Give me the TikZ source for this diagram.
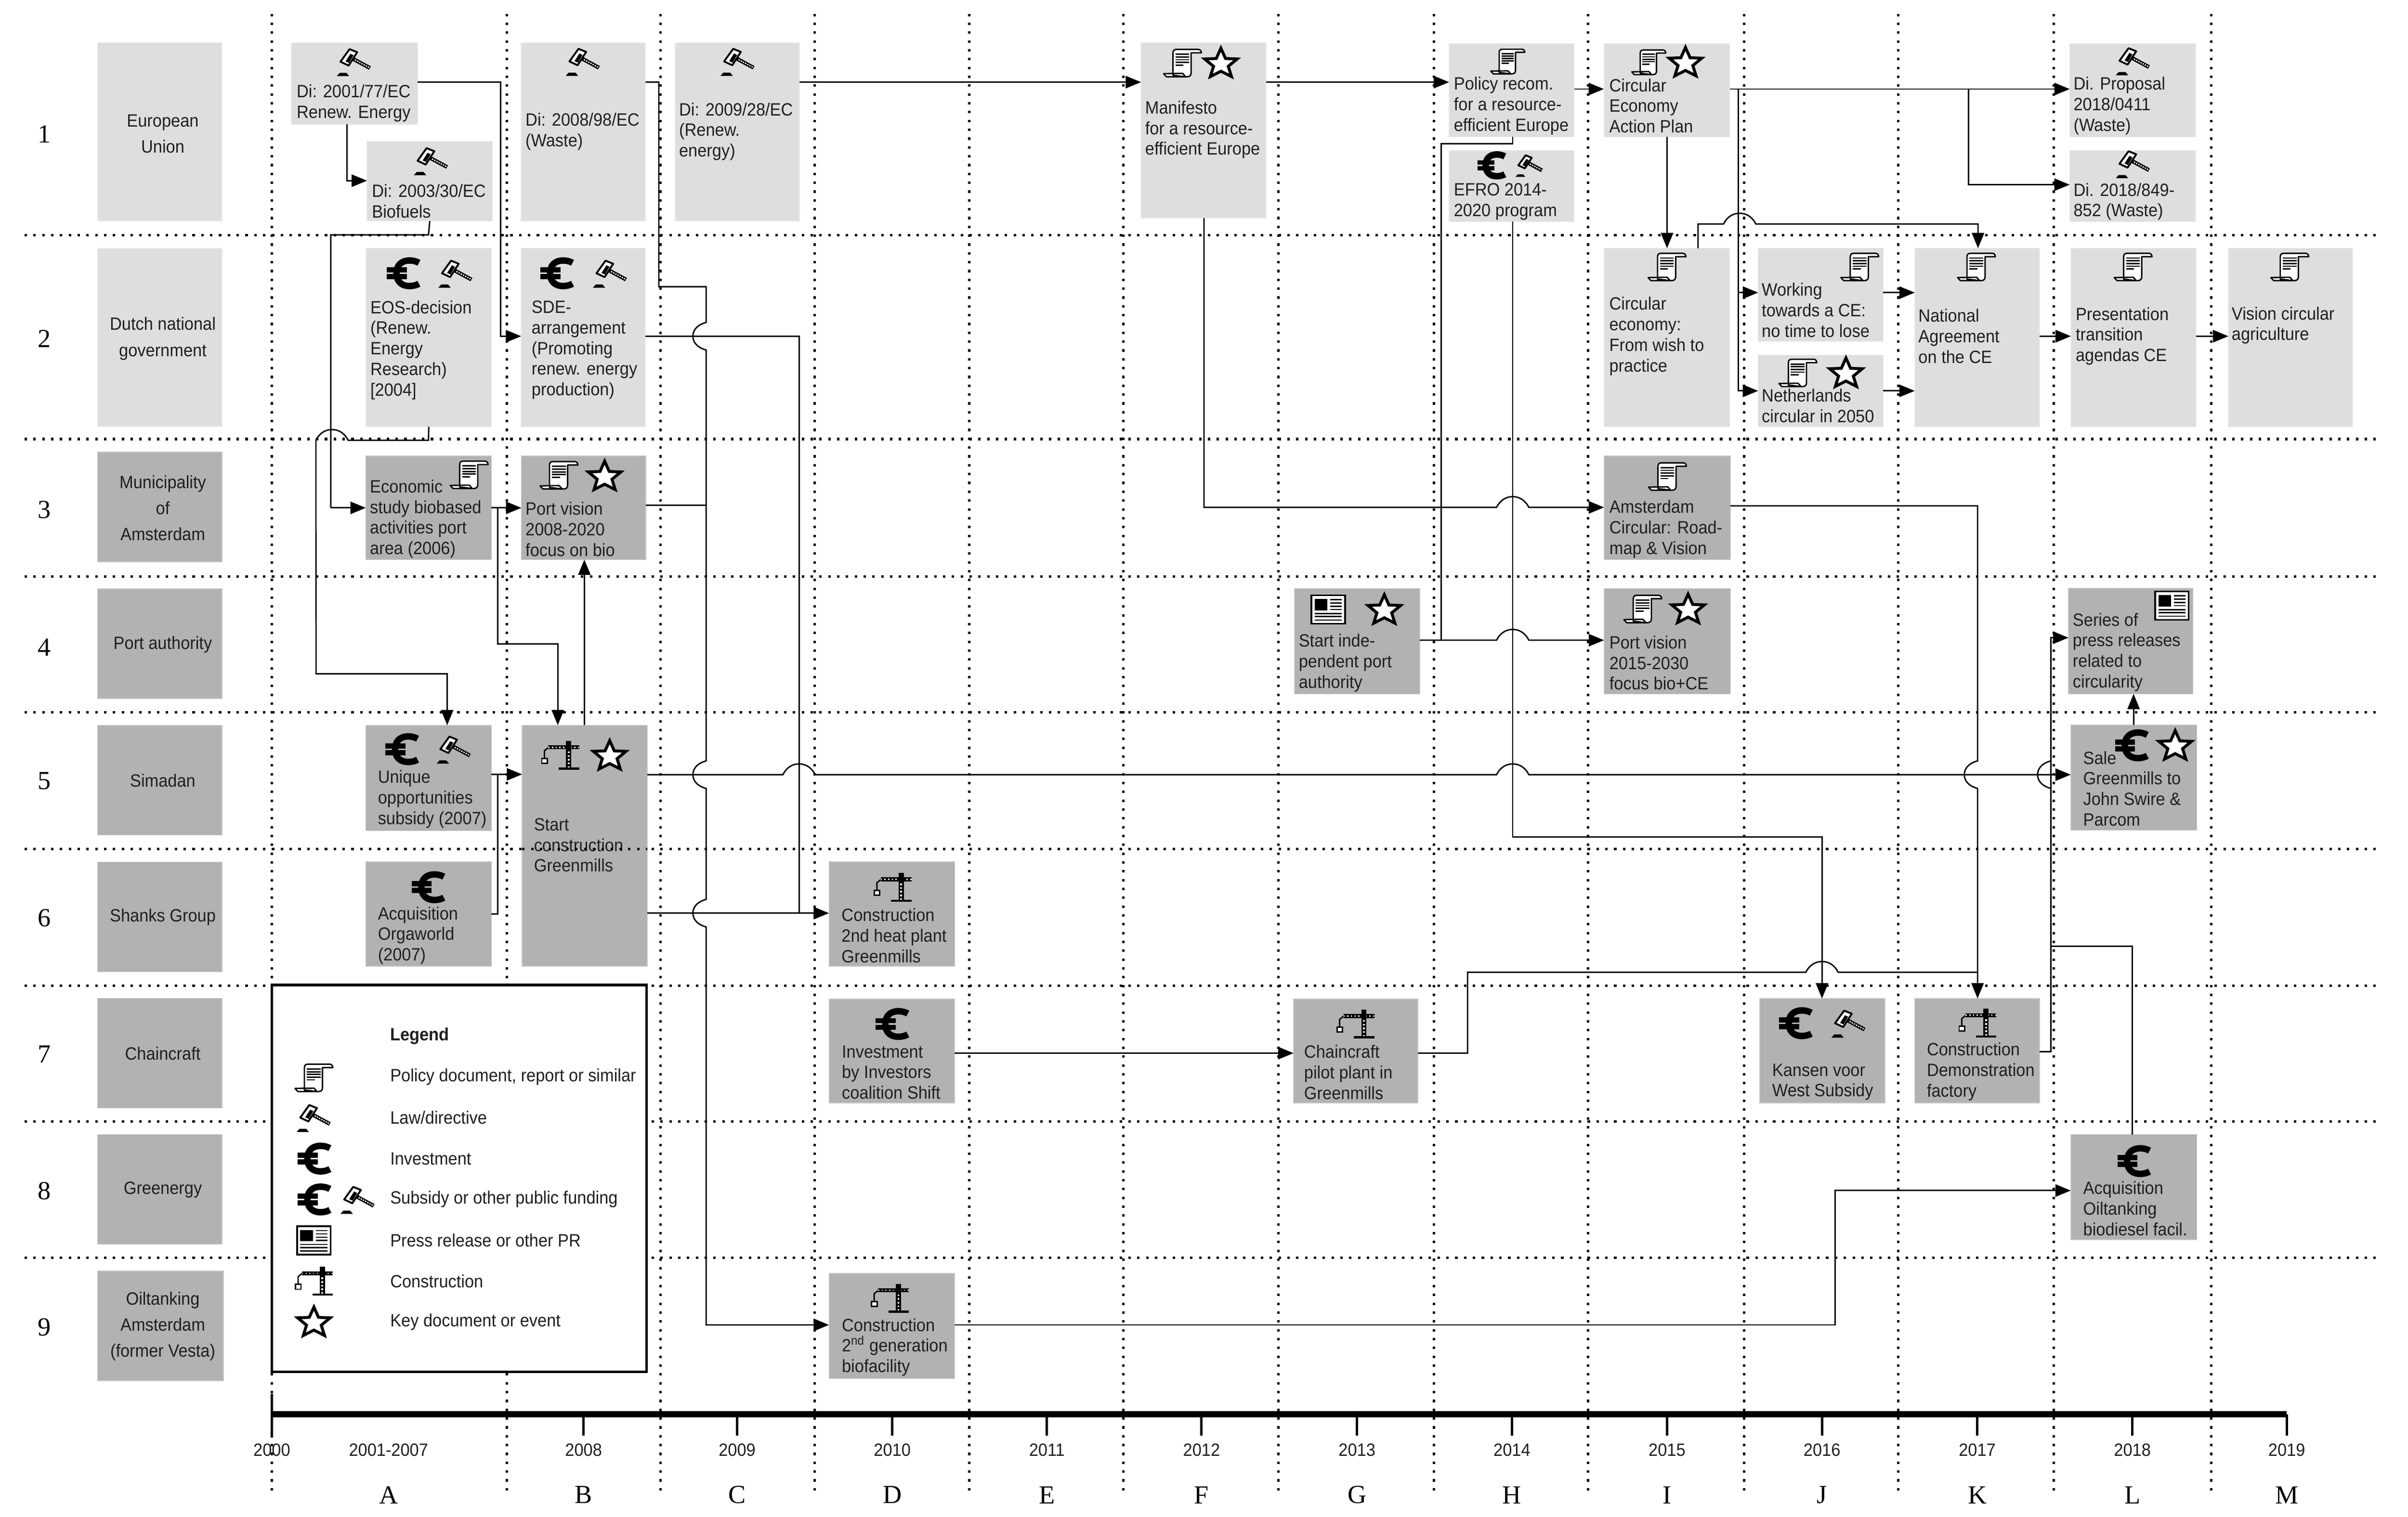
\documentclass[tikz,border=0pt]{standalone}
\usepackage{fontspec}
\setmainfont[FakeStretch=0.93]{Liberation Sans}
\newfontfamily\numfont{Liberation Serif}
\usetikzlibrary{arrows.meta}

\definecolor{lightbox}{HTML}{DEDEDE}
\definecolor{darkbox}{HTML}{B2B2B2}

\tikzset{
  griddot/.style={line width=1.6pt, dash pattern=on 1.6pt off 4.15pt},
  evbox/.style={inner sep=0pt, outer sep=0pt, line width=0.5pt},
  evlight/.style={evbox, fill=lightbox, draw=lightbox!60!white},
  evdark/.style={evbox, fill=darkbox, draw=darkbox!70!white},
  evtext/.style={font=\fontsize{11.6}{13.4}\selectfont, align=left, inner sep=0pt, text=black!88},
  rowtext/.style={font=\fontsize{11.6}{17}\selectfont, align=center, inner sep=0pt, text=black!88},
  numtext/.style={font=\numfont\fontsize{17}{17}\selectfont, inner sep=0pt},
  link/.style={line width=0.9pt},
  tolink/.style={line width=0.9pt, -{Triangle[length=10pt,width=8pt]}},
  docicon/.pic={
    \filldraw[line width=0.9pt, fill=white, line join=round] (-6.2,6.8) -- (-6.2,-6.5)
      .. controls (-6.2,-8) and (-5.5,-8.8) .. (-4,-8.8) -- (10.5,-8.8)
      .. controls (11.5,-8.8) and (12.3,-7.6) .. (12.3,-6.6) -- (5.6,-6.6) -- (5.6,6.5)
      .. controls (5.6,8) and (4.8,9) .. (3,9) -- (-10.5,9) -- (-12.3,7) -- (0,6.8)
      .. controls (1,7.2) and (1,8.2) .. (2,9) -- (-6.2,8) -- cycle;
    \foreach \ly in {-5.7,-3.9,-2.1,-0.4} \draw[line width=0.9pt] (-4.6,\ly) -- (4.4,\ly);
    \draw[line width=0.9pt] (-4.6,1.4) -- (0.6,1.4);
  },
  lawicon/.pic={
    \fill (-11.3,9.4) -- (-9.4,7.3) -- (-5,7.3) -- (-3.2,9.4) -- cycle;
    \draw[line width=2.5pt] (-1,-2) -- (10.3,4.1);
    \draw[line width=0.8pt, white, dash pattern=on 0.9pt off 0.7pt] (0.5,-1.2) -- (9.8,3.8);
    \filldraw[line width=1.2pt, fill=white, line join=round] (-8.9,0) -- (-3,-8.2) -- (2,-6.2) -- (-3.6,2.5) -- cycle;
    \fill (-5.6,-0.2) -- (-2.4,-5.2) -- (-0.4,-4.2) -- (-3.4,0.8) -- cycle;
  },
  euroicon/.pic={
    \draw[line width=4.2pt] (10.4,-6.8) .. controls (6,-9.4) and (-4.2,-9.6) .. (-4.2,0)
      .. controls (-4.2,9.6) and (6,9.4) .. (10.4,6.8);
    \fill (-10.5,-3.9) rectangle (2.5,-0.5);
    \fill (-10.5,0.5) rectangle (2.5,3.9);
  },
  pressicon/.pic={
    \filldraw[line width=1.1pt, fill=white] (-10.9,-9.2) rectangle (10.9,9.2);
    \fill (-8.9,-6.9) rectangle (-0.5,0.5);
    \foreach \ly in {-6.5,-4.3,-2,0} \draw[line width=0.8pt] (1.3,\ly) -- (8.9,\ly);
    \foreach \ly in {2.6,4.6,6.9} \draw[line width=0.8pt] (-8.9,\ly) -- (8.9,\ly);
  },
  craneicon/.pic={
    \draw[line width=0.9pt] (-10.3,2) -- (-10.3,-3) -- (-7.6,-5.2);
    \filldraw[line width=0.9pt, fill=white] (-12,2) rectangle (-8.4,5.2);
    \draw[line width=2.6pt] (-7.8,-5.2) -- (12.3,-5.2);
    \draw[line width=0.8pt, white, dash pattern=on 0.8pt off 1.6pt] (-7.8,-5.2) -- (12.3,-5.2);
    \draw[line width=3.4pt] (5.5,-9.4) -- (5.5,8.7);
    \draw[line width=1.2pt, white, dash pattern=on 1.1pt off 1.3pt] (5.5,-2.5) -- (5.5,8);
    \draw[line width=1.4pt] (-1,8.7) -- (12.3,8.7);
  },
  staricon/.pic={
    \filldraw[line width=1.9pt, fill=white, line join=miter] (0,-9.6) -- (3,-2.9) -- (10.6,-2.6)
      -- (4.8,2.2) -- (6.9,8.9) -- (0,5.4) -- (-6.9,8.9) -- (-4.8,2.2) -- (-10.6,-2.6) -- (-3,-2.9) -- cycle;
  },
}

% a box, then its text: name, style, x1, y1, x2, y2, text x, text y, text
\newcommand{\eventbox}[9]{%
  \node[#2, minimum width={(#5-#3)*1pt}, minimum height={(#6-#4)*1pt}] (#1) at ({(#3+#5)/2},{(#4+#6)/2}) {};
  \node[evtext, anchor=west] (#1t) at (#7,#8) {#9};
}
% hops over a crossing line
\newcommand{\vhop}[2]{-- (#1,{#2-9}) .. controls ({#1-7},{#2-7}) and ({#1-8.6},{#2-3}) .. ({#1-8.6},#2) .. controls ({#1-8.6},{#2+3}) and ({#1-7},{#2+7}) .. (#1,{#2+9})}
\newcommand{\hhop}[2]{-- ({#1-10.5},#2) .. controls ({#1-8},{#2-5}) and ({#1-4},{#2-7}) .. (#1,{#2-7}) .. controls ({#1+4},{#2-7}) and ({#1+8},{#2-5}) .. ({#1+10.5},#2)}
\newcommand{\hhopw}[2]{-- ({#1+10.5},#2) .. controls ({#1+8},{#2-5}) and ({#1+4},{#2-7}) .. (#1,{#2-7}) .. controls ({#1-4},{#2-7}) and ({#1-8},{#2-5}) .. ({#1-10.5},#2)}

\begin{document}
\begin{tikzpicture}[x=1pt, y=-1pt]
  \useasboundingbox (0,0) rectangle (1568,988);

  % Grid
  \foreach \gx in {177,330,430,530.5,631,731.5,832.3,933.6,1034,1135.7,1236,1337.4,1440}
    \draw[griddot] (\gx,9) -- (\gx,973);
  \foreach \gy in {153.2,286,375.6,464,553,642,730.6,819.2}
    \draw[griddot] (16,\gy) -- (1551,\gy);

  % Actors
  \node[evlight, minimum width=81pt, minimum height=116pt] (eu) at (104,86) {};
  \node[rowtext] (eut) at (106,87.2) {European\\Union};
  \node[evlight, minimum width=81pt, minimum height=116pt] (nl) at (104,219.8) {};
  \node[rowtext] (nlt) at (106,220.6) {Dutch national\\government};
  \node[evdark, minimum width=81pt, minimum height=71.5pt] (ams) at (104,330.3) {};
  \node[rowtext] (amst) at (106,331) {Municipality\\of\\Amsterdam};
  \node[evdark, minimum width=81pt, minimum height=71.5pt] (port) at (104,419.3) {};
  \node[rowtext] (portt) at (106,420) {Port authority};
  \node[evdark, minimum width=81pt, minimum height=71.5pt] (sim) at (104,508.2) {};
  \node[rowtext] (simt) at (106,508.5) {Simadan};
  \node[evdark, minimum width=81pt, minimum height=71.5pt] (sha) at (104,597.3) {};
  \node[rowtext] (shat) at (106,597.5) {Shanks Group};
  \node[evdark, minimum width=81pt, minimum height=71.5pt] (cha) at (104,686) {};
  \node[rowtext] (chat) at (106,686.3) {Chaincraft};
  \node[evdark, minimum width=81pt, minimum height=71.5pt] (gre) at (104,774.7) {};
  \node[rowtext] (gret) at (106,775) {Greenergy};
  \node[evdark, minimum width=82pt, minimum height=71.5pt] (oil) at (104.5,863.6) {};
  \node[rowtext] (oilt) at (106,864) {Oiltanking\\Amsterdam\\(former Vesta)};

  % Row numbers
  \foreach \ry [count=\rn] in {87.4,220.6,332,421.7,508.6,598,686.6,775.7,864.5}
    \node[numtext] (row\rn) at (29,\ry) {\rn};

  % Events
  \eventbox{di01}{evlight}{189.7}{28}{272}{81}{193}{67.2}{Di: 2001/77/EC\\Renew. Energy}
  \eventbox{di03}{evlight}{239}{92}{320.7}{144}{242}{131}{Di: 2003/30/EC\\Biofuels}
  \eventbox{di08}{evlight}{339.4}{28}{420.3}{144}{342}{85.8}{Di: 2008/98/EC\\(Waste)}
  \eventbox{di09}{evlight}{439.7}{28}{520.6}{144}{442}{85.7}{Di: 2009/28/EC\\(Renew.\\energy)}
  \eventbox{mani}{evlight}{743}{28}{824.5}{142}{745.5}{84.5}{Manifesto\\for a resource-\\efficient Europe}
  \eventbox{polrec}{evlight}{943.6}{28.4}{1025}{89.2}{946.5}{68.9}{Policy recom.\\for a resource-\\efficient Europe}
  \eventbox{efro}{evlight}{943.6}{98}{1025}{144.4}{946.5}{131.4}{EFRO 2014-\\2020 program}
  \eventbox{cap}{evlight}{1044.4}{28.4}{1126.3}{89.2}{1047.7}{68.9}{Circular\\Economy\\Action Plan}
  \eventbox{prop}{evlight}{1347.7}{28.4}{1429.6}{89.2}{1350}{68.9}{Di. Proposal\\2018/0411\\(Waste)}
  \eventbox{di18}{evlight}{1347.7}{98}{1429.6}{144.4}{1350}{131.4}{Di. 2018/849-\\852 (Waste)}

  \eventbox{eos}{evlight}{238.4}{161.7}{320}{278}{241}{228}{EOS-decision\\(Renew.\\Energy\\Research)\\{[}2004{]}}
  \eventbox{sde}{evlight}{339.4}{161.7}{420.3}{278}{346}{228}{SDE-\\arrangement\\(Promoting\\renew. energy\\production)}
  \eventbox{wish}{evlight}{1044.4}{161.7}{1126.3}{278}{1047.7}{219}{Circular\\economy:\\From wish to\\practice}
  \eventbox{work}{evlight}{1144.8}{161.7}{1226.3}{222.3}{1147}{202}{Working\\towards a CE:\\no time to lose}
  \eventbox{neth}{evlight}{1144.8}{231.3}{1226.3}{278}{1147}{264.2}{Netherlands\\circular in 2050}
  \eventbox{natl}{evlight}{1246.8}{161.7}{1328}{278}{1249}{219}{National\\Agreement\\on the CE}
  \eventbox{pres}{evlight}{1348.5}{161.7}{1430}{278}{1351.4}{219}{Presentation\\transition\\agendas CE}
  \eventbox{visn}{evlight}{1451}{161.7}{1532}{278}{1453}{212}{Vision circular\\agriculture}

  \eventbox{econ}{evdark}{238.2}{296.9}{320}{364.5}{240.7}{338}{Economic\\study biobased\\activities port\\area (2006)}
  \eventbox{pv08}{evdark}{339.5}{296.9}{420.6}{364.5}{342}{344.7}{Port vision\\2008-2020\\focus on bio}
  \eventbox{acir}{evdark}{1044.5}{297}{1126.7}{364.6}{1047.8}{344.6}{Amsterdam\\Circular: Road-\\map \& Vision}

  \eventbox{indp}{evdark}{843}{383.4}{924.4}{452}{845.5}{431.8}{Start inde-\\pendent port\\authority}
  \eventbox{pv15}{evdark}{1044.5}{383.4}{1126.7}{452}{1047.8}{431.8}{Port vision\\2015-2030\\focus bio+CE}
  \eventbox{seri}{evdark}{1346.9}{383.3}{1428}{452}{1349.5}{424.8}{Series of\\press releases\\related to\\circularity}

  \eventbox{uniq}{evdark}{238.2}{472.4}{320}{541.1}{245.9}{520.6}{Unique\\opportunities\\subsidy (2007)}
  \eventbox{orga}{evdark}{238.2}{561.4}{320}{629.4}{245.9}{609.4}{Acquisition\\Orgaworld\\(2007)}
  \eventbox{strt}{evdark}{340}{472.4}{421.4}{629.4}{347.5}{550.5}{Start\\construction\\Greenmills}
  \eventbox{sale}{evdark}{1348.4}{472.2}{1430.5}{540.8}{1356.3}{513.7}{Sale\\Greenmills to\\John Swire \&\\Parcom}
  \eventbox{heat}{evdark}{539.8}{561.4}{621.7}{629.4}{547.8}{609.4}{Construction\\2nd heat plant\\Greenmills}

  \eventbox{invs}{evdark}{539.8}{650.7}{621.6}{718.4}{548}{698.5}{Investment\\by Investors\\coalition Shift}
  \eventbox{pilo}{evdark}{842.3}{650.7}{923.3}{718.4}{849}{698.5}{Chaincraft\\pilot plant in\\Greenmills}
  \eventbox{kans}{evdark}{1145.8}{650.4}{1227.4}{718.4}{1153.8}{704.8}{Kansen voor\\West Subsidy}
  \eventbox{demo}{evdark}{1246.8}{650.4}{1328}{718.4}{1254.5}{698}{Construction\\Demonstration\\factory}
  \eventbox{acqo}{evdark}{1348.4}{739}{1430.5}{807.6}{1356.3}{787.2}{Acquisition\\Oiltanking\\biodiesel facil.}
  \eventbox{gen2}{evdark}{539.8}{829.4}{621.6}{898}{548}{877.5}{Construction\\2\textsuperscript{nd} generation\\biofacility}

  % The row line runs over this box
  \draw[griddot] (strt.west |- 0,553) -- (strt.east |- 0,553);

  % Icons
  \pic at (230.6,40.2) {lawicon};
  \pic at (280.8,104.7) {lawicon};
  \pic at (379.7,40) {lawicon};
  \pic at (480.4,40) {lawicon};
  \pic at (770,41) {docicon};
  \pic at (795,41) {staricon};
  \pic[scale=.9] at (981.8,40) {docicon};
  \pic[scale=.85] at (971,107.7) {euroicon};
  \pic[scale=.8] at (995.8,107.7) {lawicon};
  \pic[scale=.9] at (1073.6,40.5) {docicon};
  \pic at (1097.5,40.5) {staricon};
  \pic at (1389,39.6) {lawicon};
  \pic at (1389,106.7) {lawicon};
  \pic at (262.4,178) {euroicon};
  \pic at (296.7,178) {lawicon};
  \pic at (362.4,178) {euroicon};
  \pic at (397.3,178) {lawicon};
  \pic at (1085.5,173.8) {docicon};
  \pic at (1211,173.8) {docicon};
  \pic at (1170.7,242.8) {docicon};
  \pic at (1202,242.8) {staricon};
  \pic at (1287,173.8) {docicon};
  \pic at (1389,173.8) {docicon};
  \pic at (1491,173.8) {docicon};
  \pic at (305.5,309.2) {docicon};
  \pic at (364,309.5) {docicon};
  \pic at (393.7,310) {staricon};
  \pic at (1085.8,310.3) {docicon};
  \pic at (864.9,397) {pressicon};
  \pic at (901.4,397) {staricon};
  \pic at (1069.7,396.6) {docicon};
  \pic at (1099.2,396.6) {staricon};
  \pic at (1414.3,394.5) {pressicon};
  \pic at (261.5,488) {euroicon};
  \pic at (295.6,488) {lawicon};
  \pic at (364.8,492) {craneicon};
  \pic at (397,492) {staricon};
  \pic at (1387.8,485.5) {euroicon};
  \pic at (1416.4,485.5) {staricon};
  \pic at (278.6,577.9) {euroicon};
  \pic at (581.3,578) {craneicon};
  \pic at (580.7,667) {euroicon};
  \pic at (882.6,667) {craneicon};
  \pic at (1169,666.5) {euroicon};
  \pic at (1203.8,666.5) {lawicon};
  \pic at (1287.7,666.5) {craneicon};
  \pic at (1389.3,756.3) {euroicon};
  \pic at (579.5,845.7) {craneicon};

  % Connectors, left part
  \draw[tolink] (di01.east |- 0,53.5) -- (326,53.5) -- (326,219) -- (sde.west |- 0,219);
  \draw[tolink] (di01.south -| 226,0) -- (226,117.7) -- (di03.west |- 0,117.7);
  \draw[link] (di03.south) -- (279,153) -- (215.4,153) -- (215.4,330.8);
  \draw[tolink] (215.4,330.8) -- (econ.west |- 0,330.8);
  \draw[tolink] (eos.south) -- (279,286.8) \hhopw{216.2}{286.8} -- (205.8,438.9) -- (291.2,438.9) -- (uniq.north -| 291.2,0);
  \draw[tolink] (econ.east |- 0,330.8) -- (pv08.west |- 0,330.8);
  \draw[tolink] (324.2,330.8) -- (324.2,419.4) -- (363.2,419.4) -- (strt.north -| 363.2,0);
  \draw[tolink] (strt.north -| 380.5,0) -- (pv08.south -| 380.5,0);
  \draw[tolink] (uniq.east |- 0,504.4) -- (strt.west |- 0,504.4);
  \draw[link] (orga.east |- 0,595.3) -- (324.2,595.3) -- (324.2,504.4);

  % Down to the 2nd generation plant
  \draw[tolink] (di08.east |- 0,53.5) -- (429,53.5) -- (429,186.8) -- (459.8,186.8) \vhop{459.8}{219} \vhop{459.8}{504.6} \vhop{459.8}{594.8} -- (459.8,863) -- (gen2.west |- 0,863);
  \draw[link] (pv08.east |- 0,329) -- (459.8,329);
  \draw[link] (sde.east |- 0,219) -- (520.3,219) -- (520.3,594.8);
  \draw[tolink] (strt.east |- 0,594.8) -- (heat.west |- 0,594.8);

  % Long lines through the middle
  \draw[tolink] (di09.east |- 0,53.5) -- (mani.west |- 0,53.5);
  \draw[tolink] (mani.east |- 0,53.5) -- (polrec.west |- 0,53.5);
  \draw[tolink] (polrec.east |- 0,58) -- (cap.west |- 0,58);
  \draw[tolink] (strt.east |- 0,504.6) \hhop{520.3}{504.6} \hhop{985}{504.6} -- (sale.west |- 0,504.6);
  \draw[tolink] (mani.south -| 784,0) -- (784,330.5) \hhop{985}{330.5} -- (acir.west |- 0,330.5);
  \draw[tolink] (indp.east |- 0,417) \hhop{985}{417} -- (pv15.west |- 0,417);
  \draw[link] (polrec.south -| 985,0) -- (985,93.7) -- (938.3,93.7) -- (938.3,417);
  \draw[tolink] (efro.south -| 985,0) -- (985,545.3) -- (1186.4,545.3) -- (kans.north -| 1186.4,0);
  \draw[tolink] (invs.east |- 0,686) -- (pilo.west |- 0,686);
  \draw[link] (pilo.east |- 0,686) -- (955.6,686) -- (955.6,633.3) \hhop{1186.4}{633.3} -- (1287.7,633.3);
  \draw[tolink] (gen2.east |- 0,863) -- (1195,863) -- (1195,775.5) -- (acqo.west |- 0,775.5);

  % Connectors, right part
  \draw[tolink] (cap.east |- 0,58) -- (prop.west |- 0,58);
  \draw[tolink] (1281.8,58) -- (1281.8,120.3) -- (di18.west |- 0,120.3);
  \draw[tolink] (cap.south -| 1085.5,0) -- (wish.north -| 1085.5,0);
  \draw[tolink] (1132,58) -- (1132,254.6) -- (neth.west |- 0,254.6);
  \draw[tolink] (1132,190.6) -- (work.west |- 0,190.6);
  \draw[tolink] (wish.north -| 1105.7,0) -- (1105.7,145.9) \hhop{1132.8}{145.9} -- (1288,145.9) -- (natl.north -| 1288,0);
  \draw[tolink] (work.east |- 0,190.6) -- (natl.west |- 0,190.6);
  \draw[tolink] (neth.east |- 0,254.6) -- (natl.west |- 0,254.6);
  \draw[tolink] (natl.east |- 0,219) -- (pres.west |- 0,219);
  \draw[tolink] (pres.east |- 0,219) -- (visn.west |- 0,219);
  \draw[tolink] (acir.east |- 0,329.5) -- (1287.7,329.5) \vhop{1287.7}{504.6} -- (demo.north -| 1287.7,0);
  \draw[tolink] (demo.east |- 0,685) -- (1335.4,685) \vhop{1335.4}{504.6} -- (1335.4,415.4) -- (seri.west |- 0,415.4);
  \draw[tolink] (sale.north -| 1389.3,0) -- (seri.south -| 1389.3,0);
  \draw[link] (acqo.north -| 1388.4,0) -- (1388.4,616.5) -- (1335.4,616.5);

  % Legend
  \node[draw, line width=1.8pt, fill=white, minimum width=244pt, minimum height=252pt, inner sep=0pt] (legend) at (299,767.6) {};
  \node[evtext, anchor=west, font=\bfseries\fontsize{11.6}{13.4}\selectfont] (leg0) at (253.9,674.8) {Legend};
  \node[evtext, anchor=west] (leg1) at (253.9,701.5) {Policy document, report or similar};
  \node[evtext, anchor=west] (leg2) at (253.9,728) {Law/directive};
  \node[evtext, anchor=west] (leg3) at (253.9,754.7) {Investment};
  \node[evtext, anchor=west] (leg4) at (253.9,781.3) {Subsidy or other public funding};
  \node[evtext, anchor=west] (leg5) at (253.9,808) {Press release or other PR};
  \node[evtext, anchor=west] (leg6) at (253.9,834.6) {Construction};
  \node[evtext, anchor=west] (leg7) at (253.9,861) {Key document or event};
  \pic at (204.4,702) {docicon};
  \pic at (204.4,728) {lawicon};
  \pic at (204.4,754.7) {euroicon};
  \pic at (204.4,781.3) {euroicon};
  \pic at (233,781.3) {lawicon};
  \pic at (204.4,808) {pressicon};
  \pic at (204.4,834.6) {craneicon};
  \pic at (204.4,861) {staricon};

  % Time line
  \draw[line width=4pt] (177,921.2) -- (1489,921.2);
  \draw[line width=1.6pt] (177,908) -- (177,935);
  \foreach \tx in {380,480,581,681.7,782.4,883.6,984.5,1085.5,1186.4,1287.5,1388.5,1489}
    \draw[line width=1.6pt] (\tx,921.2) -- (\tx,935);
  \foreach \tx/\ty in {177/2000,253/2001-2007,380/2008,480/2009,581/2010,681.7/2011,782.4/2012,883.6/2013,984.5/2014,1085.5/2015,1186.4/2016,1287.5/2017,1388.5/2018,1489/2019}
    \node[evtext] (y\ty) at (\tx,944.5) {\ty};
  \foreach \tx/\tl in {253/A,380/B,480/C,581/D,681.7/E,782.4/F,883.6/G,984.5/H,1085.5/I,1186.4/J,1287.5/K,1388.5/L,1489/M}
    \node[numtext] (col\tl) at (\tx,973.8) {\tl};
\end{tikzpicture}
\end{document}
